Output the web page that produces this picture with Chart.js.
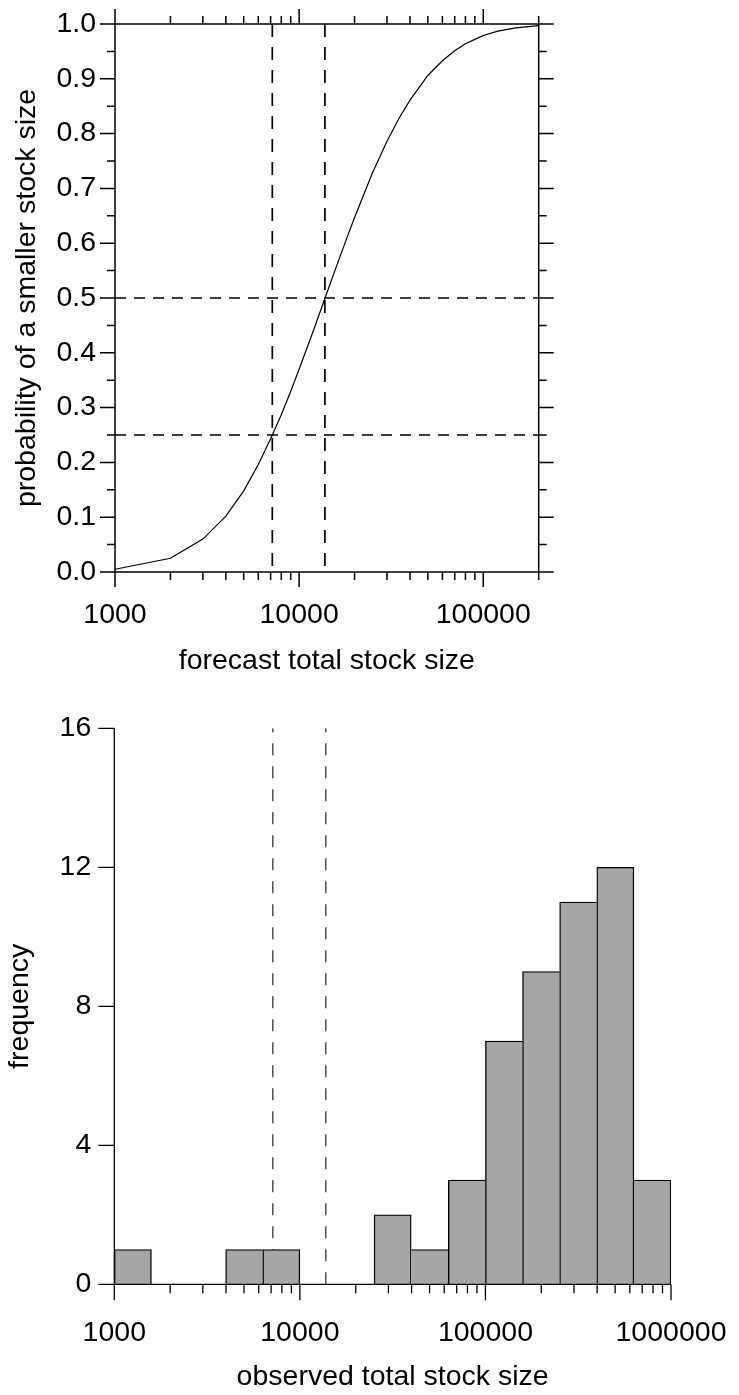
<!DOCTYPE html>
<html>
<head>
<meta charset="utf-8">
<title>Stock size forecast</title>
<script src="https://cdn.jsdelivr.net/npm/chart.js@4.4.1/dist/chart.umd.min.js"></script>
<style>
    html, body { margin: 0; padding: 0; background: #fff; overflow: hidden; }
    canvas { position: absolute; left: 0; }
</style>
</head>
<body>
<canvas id="forecast_chart" width="739" height="700" style="top:0"></canvas>
<canvas id="observed_chart" width="739" height="695" style="top:700px"></canvas>
<script>
// Forecast curve: probability of a smaller stock size
var forecastSize = [1000, 2000, 3000, 4000, 5000, 6000, 7000, 8000, 9000, 10000,
    12000, 14000, 16000, 18000, 20000, 25000, 30000, 35000, 40000, 50000,
    60000, 70000, 80000, 90000, 100000, 120000, 150000, 200000];
var probSmaller = [0.005, 0.025, 0.060, 0.102, 0.148, 0.196, 0.243, 0.287, 0.330, 0.370,
    0.442, 0.505, 0.559, 0.606, 0.647, 0.728, 0.786, 0.829, 0.861, 0.906,
    0.933, 0.951, 0.964, 0.972, 0.979, 0.987, 0.993, 0.997];

// 25% and 50% cut-offs (dashed lines)
var cutSizes = [7150, 13800];
var cutProbs = [0.25, 0.5];

var forecastMin = 1000, forecastMax = 200000;
var forecastMajorTicks = [1000, 10000, 100000];
var forecastMinorTicks = [2000, 3000, 4000, 5000, 6000, 7000, 8000, 9000,
    20000, 30000, 40000, 50000, 60000, 70000, 80000, 90000, 200000];
var probTicks = [0.0, 0.1, 0.2, 0.3, 0.4, 0.5, 0.6, 0.7, 0.8, 0.9, 1.0];
var probMinorTicks = [0.05, 0.15, 0.25, 0.35, 0.45, 0.55, 0.65, 0.75, 0.85, 0.95];

// Histogram of observed stock sizes (log bins)
var binEdges = [1000, 1585, 2512, 3981, 6310, 10000, 15849, 25119, 39811, 63096,
    100000, 158489, 251189, 398107, 630957, 1000000];
var binCounts = [1, 0, 0, 1, 1, 0, 0, 2, 1, 3, 7, 9, 11, 12, 3];

var observedMin = 1000, observedMax = 1000000;
var observedMajorTicks = [1000, 10000, 100000, 1000000];
var observedMinorTicks = [2000, 3000, 4000, 5000, 6000, 7000, 8000, 9000,
    20000, 30000, 40000, 50000, 60000, 70000, 80000, 90000,
    200000, 300000, 400000, 500000, 600000, 700000, 800000, 900000];
var freqTicks = [0, 4, 8, 12, 16];

Chart.defaults.font.family = '"Liberation Sans", Arial, sans-serif';
Chart.defaults.font.size = 28.5;
Chart.defaults.color = '#000';

function makeTicks(major, minor) {
    var list = major.map(function (v) { return {value: v, major: true}; });
    minor.forEach(function (v) { list.push({value: v, major: false}); });
    return list.sort(function (a, b) { return a.value - b.value; });
}

// fixed axis boxes, no extra room for overhanging labels
function fixWidth(w) {
    return function (s) { s.width = w; s.paddingTop = 0; s.paddingBottom = 0; };
}
function fixHeight(h) {
    return function (s) { s.height = h; s.paddingLeft = 0; s.paddingRight = 0; };
}

// draws axis lines and tick marks from the scales' ticks
var axisFrame = {
    id: 'axisFrame',
    afterDatasetsDraw: function (chart, args, opts) {
        var ctx = chart.ctx, a = chart.chartArea;
        var xs = chart.scales.x, ys = chart.scales.y;
        ctx.save();
        ctx.strokeStyle = '#000';
        ctx.lineWidth = opts.lineWidth;
        ctx.beginPath();
        ctx.moveTo(a.left, a.top);
        ctx.lineTo(a.left, a.bottom);
        ctx.lineTo(a.right, a.bottom);
        if (opts.box) {
            ctx.moveTo(a.left, a.top);
            ctx.lineTo(a.right, a.top);
            ctx.lineTo(a.right, a.bottom);
        }
        xs.ticks.forEach(function (t) {
            var px = xs.getPixelForValue(t.value);
            var len = t.major ? opts.major : opts.minor;
            ctx.moveTo(px, a.bottom);
            ctx.lineTo(px, a.bottom + len);
            if (opts.box) {
                ctx.moveTo(px, a.top);
                ctx.lineTo(px, a.top - len);
            }
        });
        ys.ticks.forEach(function (t) {
            var py = ys.getPixelForValue(t.value);
            var len = t.major ? opts.major : opts.minor;
            ctx.moveTo(a.left, py);
            ctx.lineTo(a.left - len, py);
            if (opts.box) {
                ctx.moveTo(a.right, py);
                ctx.lineTo(a.right + len, py);
            }
        });
        ctx.stroke();
        ctx.restore();
    }
};

document.addEventListener('DOMContentLoaded', function () {
    // ---- top chart: forecast CDF ----
    var datasets = [{
        data: forecastSize.map(function (s, i) { return {x: s, y: probSmaller[i]}; }),
        borderColor: '#000', borderWidth: 1.2, pointRadius: 0, tension: 0
    }];
    cutSizes.forEach(function (c) {
        datasets.push({
            data: [{x: c, y: 1}, {x: c, y: 0}],
            borderColor: '#000', borderWidth: 1.7, borderDash: [13, 10], pointRadius: 0
        });
    });
    cutProbs.forEach(function (p) {
        datasets.push({
            data: [{x: forecastMin, y: p}, {x: forecastMax, y: p}],
            borderColor: '#000', borderWidth: 1.7, borderDash: [11, 8], pointRadius: 0
        });
    });

    new Chart(document.getElementById('forecast_chart'), {
        type: 'line',
        data: {datasets: datasets},
        options: {
            responsive: false, animation: false, devicePixelRatio: 1,
            layout: {padding: {top: 24, right: 200.3, left: 0, bottom: 0}},
            plugins: {legend: {display: false}, tooltip: {enabled: false},
                axisFrame: {box: true, lineWidth: 1.5, major: 15, minor: 8}},
            scales: {
                x: {
                    type: 'logarithmic', min: forecastMin, max: forecastMax, offset: false,
                    grid: {display: false, drawTicks: false}, border: {display: false},
                    afterBuildTicks: function (s) { s.ticks = makeTicks(forecastMajorTicks, forecastMinorTicks); },
                    afterFit: fixHeight(128),
                    ticks: {autoSkip: false, maxRotation: 0, padding: 26,
                        callback: function (v, i, t) { return t[i].major ? String(v) : ''; }},
                    title: {display: true, text: 'forecast total stock size', padding: {top: 0, bottom: 22}}
                },
                y: {
                    type: 'linear', min: 0, max: 1,
                    grid: {display: false, drawTicks: false}, border: {display: false},
                    afterBuildTicks: function (s) { s.ticks = makeTicks(probTicks, probMinorTicks); },
                    afterFit: fixWidth(115),
                    ticks: {autoSkip: false, padding: 19,
                        callback: function (v, i, t) { return t[i].major ? v.toFixed(1) : ''; }},
                    title: {display: true, text: 'probability of a smaller stock size', padding: {top: 10, bottom: 0}}
                }
            }
        },
        plugins: [axisFrame]
    });

    // ---- bottom chart: histogram ----
    var binCenters = binCounts.map(function (c, i) { return Math.sqrt(binEdges[i] * binEdges[i + 1]); });
    var histSets = [{
        type: 'bar', order: 1,
        data: binCounts.map(function (c, i) { return {x: binCenters[i], y: c}; }),
        backgroundColor: '#a6a6a6', borderColor: '#000', borderSkipped: false,
        barThickness: 'flex', categoryPercentage: 1, barPercentage: 1,
        borderWidth: function (ctx) {
            var i = ctx.dataIndex, h = binCounts[i];
            var prev = i > 0 ? binCounts[i - 1] : 0;
            var next = i < binCounts.length - 1 ? binCounts[i + 1] : 0;
            return {top: 1.4, bottom: 0, left: h >= prev ? 1.4 : 0, right: h > next ? 1.4 : 0};
        }
    }];
    cutSizes.forEach(function (c) {
        histSets.push({
            type: 'line', order: 2,
            data: [{x: c, y: 0}, {x: c, y: freqTicks[freqTicks.length - 1]}],
            borderColor: '#222', borderWidth: 1.2, borderDash: [12, 11], pointRadius: 0
        });
    });

    new Chart(document.getElementById('observed_chart'), {
        type: 'bar',
        data: {datasets: histSets},
        options: {
            responsive: false, animation: false, devicePixelRatio: 1,
            layout: {padding: {top: 28.3, right: 68, left: 0, bottom: 0}},
            plugins: {legend: {display: false}, tooltip: {enabled: false},
                axisFrame: {box: false, lineWidth: 1.3, major: 16, minor: 9}},
            scales: {
                x: {
                    type: 'logarithmic', min: observedMin, max: observedMax, offset: false,
                    grid: {display: false, drawTicks: false}, border: {display: false},
                    afterBuildTicks: function (s) { s.ticks = makeTicks(observedMajorTicks, observedMinorTicks); },
                    afterFit: fixHeight(110.7),
                    ticks: {autoSkip: false, maxRotation: 0, padding: 32,
                        callback: function (v, i, t) { return t[i].major ? String(v) : ''; }},
                    title: {display: true, text: 'observed total stock size', padding: {top: 0, bottom: 1}}
                },
                y: {
                    type: 'linear', min: 0, max: 16,
                    grid: {display: false, drawTicks: false}, border: {display: false},
                    afterBuildTicks: function (s) { s.ticks = makeTicks(freqTicks, []); },
                    afterFit: fixWidth(114.3),
                    ticks: {autoSkip: false, padding: 23,
                        callback: function (v, i, t) { return String(v); }},
                    title: {display: true, text: 'frequency', padding: {top: 3, bottom: 0}}
                }
            }
        },
        plugins: [axisFrame]
    });
});
</script>
</body>
</html>
